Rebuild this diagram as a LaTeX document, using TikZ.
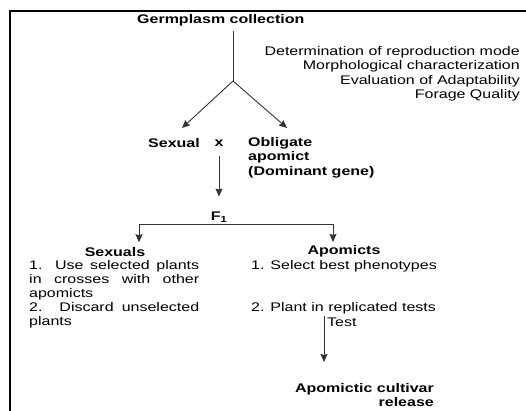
\documentclass[tikz,border=0pt]{standalone}
\usepackage{fontspec}
\setmainfont{Liberation Sans}[FakeStretch=1.28]
\usetikzlibrary{arrows.meta}

\begin{document}
\begin{tikzpicture}[x=1pt,y=1pt, every node/.style={inner sep=0pt, font=\fontsize{12.5}{14.5}\selectfont}]

\tikzset{head/.style={font=\fontsize{12.5}{14.5}\selectfont\bfseries},
link/.style={line width=0.9pt, black!80},
%filled tips, as in the scan
arr/.style={link, -{Stealth[length=8pt,width=7pt,inset=1pt]}}}

\newcommand{\listwidth}{170pt}

\useasboundingbox (0,0) rectangle (526,-411);

% frame, cut off at the right and bottom
\draw [line width=2pt] (526,-11) -- (10,-11) -- (10,-411);

\node [head,anchor=west] (germ) at (137,-20) {Germplasm collection};
\node [anchor=north east,align=right] (eval) at (520,-46) {Determination of reproduction mode\\Morphological characterization\\Evaluation of Adaptability\\Forage Quality};

\coordinate (split) at (233,-81);
\coordinate (tipL) at (182,-128);
\coordinate (tipR) at (287,-128);

\node [head,anchor=west] (sexual) at (148,-143) {Sexual};
\node [head] (cross) at (219,-143) {x};
\node [head,anchor=north west,align=left] (obligate) at (248,-137) {Obligate\\apomict\\(Dominant gene)};

\draw [link,shorten <=5pt] (germ.south -| split) -- (split);
\draw [arr] (split) -- (tipL);
\draw [arr] (split) -- (tipR);

\node [head] (f1) at (219,-217) {F\textsubscript{1}};
\draw [arr,shorten <=9pt,shorten >=15pt] (cross) -- (f1);

\coordinate (bl) at (139,-224);
\coordinate (br) at (333,-224);

\node [head] (sexuals) at (115,-252) {Sexuals};
\node [head] (apomicts) at (344,-251) {Apomicts};

\draw [link] (bl) -- (br);
\draw [arr,shorten >=5pt] (bl) -- (bl |- sexuals.north);
\draw [arr,shorten >=3pt] (br) -- (br |- apomicts.north);

\node [anchor=north west,align=left,font=\fontsize{12.5}{14}\selectfont] (uselist) at (29,-260) {\makebox[\listwidth][s]{1. Use selected plants}\\\makebox[\listwidth][s]{in crosses with other}\\apomicts\\\makebox[\listwidth][s]{2. Discard unselected}\\plants};

\node [anchor=west] (select) at (251,-266) {1. Select best phenotypes};
\node [anchor=west] (plant) at (251,-308) {2. Plant in replicated tests};
\node [anchor=west] (test) at (327,-322) {Test};
\node [head,anchor=north east,align=right] (cultivar) at (434,-383) {Apomictic cultivar\\release};

\coordinate (testtop) at (324,-316);
\draw [arr,shorten >=21pt] (testtop) -- (testtop |- cultivar.north);

\end{tikzpicture}
\end{document}
